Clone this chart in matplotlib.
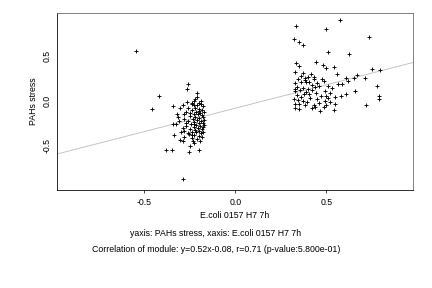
import matplotlib
matplotlib.use("Agg")
import matplotlib.pyplot as plt

# left cluster (E.coli low, PAHs low)
left_x = [-0.545, -0.42, -0.46, -0.38, -0.35, -0.255, -0.20, -0.25, -0.29, -0.225, -0.29,
          -0.26, -0.265, -0.21, -0.22, -0.265, -0.24, -0.23, -0.20, -0.34, -0.305, -0.29,
          -0.32, -0.315, -0.28, -0.27, -0.34, -0.325, -0.335, -0.305, -0.28, -0.26, -0.24,
          -0.23, -0.21, -0.19, -0.18, -0.22, -0.20, -0.185, -0.24, -0.215, -0.195, -0.175,
          -0.23, -0.205, -0.185, -0.25, -0.22, -0.20, -0.18, -0.235, -0.21, -0.19, -0.175,
          -0.26, -0.225, -0.20, -0.18, -0.245, -0.215, -0.195, -0.175, -0.27, -0.23, -0.205,
          -0.185, -0.25, -0.22, -0.20, -0.18, -0.28, -0.24, -0.215, -0.19, -0.30, -0.255,
          -0.225, -0.20, -0.185, -0.24, -0.21, -0.195, -0.27, -0.29, -0.31, -0.26, -0.25,
          -0.285, -0.21, -0.19, -0.24, -0.20, -0.225, -0.18, -0.235]
left_y = [0.556, 0.056, -0.09, -0.54, -0.55, -0.57, -0.55, -0.50, -0.87, -0.47, -0.44,
          0.19, 0.13, 0.09, 0.02, -0.01, -0.02, 0.00, -0.02, -0.06, -0.08, -0.05,
          -0.14, -0.18, -0.15, -0.12, -0.26, -0.26, -0.38, -0.43, -0.40, -0.36, -0.38,
          -0.05, -0.04, -0.03, -0.06, -0.08, -0.09, -0.10, -0.10, -0.12, -0.13, -0.12,
          -0.14, -0.15, -0.16, -0.17, -0.18, -0.19, -0.18, -0.20, -0.21, -0.22, -0.21,
          -0.22, -0.23, -0.24, -0.25, -0.26, -0.27, -0.28, -0.27, -0.28, -0.29, -0.30,
          -0.31, -0.31, -0.32, -0.33, -0.34, -0.33, -0.34, -0.35, -0.36, -0.35, -0.37,
          -0.38, -0.39, -0.40, -0.41, -0.42, -0.44, -0.25, -0.30, -0.22, -0.08, -0.13,
          -0.20, 0.04, 0.00, -0.03, -0.11, -0.26, -0.29, -0.44]

# right cluster
right_x = [0.335, 0.50, 0.575, 0.735, 0.32, 0.35, 0.37, 0.51, 0.625, 0.335, 0.35, 0.445,
           0.48, 0.50, 0.54, 0.75, 0.795, 0.33, 0.37, 0.415, 0.56, 0.67, 0.715, 0.61, 0.65,
           0.345, 0.38, 0.39, 0.385, 0.43, 0.475, 0.485, 0.62, 0.36, 0.405, 0.45, 0.565,
           0.585, 0.46, 0.51, 0.34, 0.33, 0.325, 0.37, 0.40, 0.42, 0.53, 0.49, 0.405, 0.375,
           0.34, 0.445, 0.52, 0.66, 0.78, 0.61, 0.58, 0.545, 0.79, 0.79, 0.32, 0.345, 0.37,
           0.395, 0.45, 0.49, 0.51, 0.52, 0.325, 0.35, 0.43, 0.44, 0.485, 0.545, 0.72, 0.33,
           0.35, 0.465, 0.54, 0.36, 0.40, 0.42, 0.44, 0.355, 0.39, 0.47, 0.50, 0.36, 0.41,
           0.46, 0.38, 0.42, 0.50, 0.33, 0.43]
right_y = [0.83, 0.80, 0.90, 0.71, 0.69, 0.66, 0.62, 0.54, 0.52, 0.42, 0.39, 0.43,
           0.40, 0.37, 0.38, 0.36, 0.345, 0.32, 0.31, 0.30, 0.30, 0.29, 0.26, 0.26, 0.26,
           0.24, 0.23, 0.21, 0.25, 0.24, 0.24, 0.22, 0.22, 0.21, 0.21, 0.20, 0.19,
           0.19, 0.17, 0.17, 0.16, 0.13, 0.11, 0.14, 0.13, 0.12, 0.14, 0.11, 0.08, 0.08,
           0.07, 0.09, 0.09, 0.11, 0.17, 0.08, 0.06, 0.04, 0.06, 0.02, 0.02, 0.01, 0.00,
           -0.01, 0.02, 0.00, 0.03, -0.01, -0.03, -0.03, -0.04, -0.07, -0.07, -0.03, -0.05, -0.08,
           -0.09, -0.11, -0.10, 0.28, 0.27, 0.18, 0.15, 0.12, 0.10, 0.06, 0.05, 0.04, 0.03,
           -0.02, -0.05, -0.08, -0.05, 0.20, 0.27]

# fitted line of the module
slope = 0.52
intercept = -0.08

xticks = [-0.5, 0.0, 0.5]
yticks = [-0.5, 0.0, 0.5]

plt.rcParams['font.family'] = ['Liberation Sans', 'DejaVu Sans']
fs = 8.8

fig = plt.figure(figsize=(6, 4), dpi=72)
ax = fig.add_axes([0.132, 0.340, 0.824, 0.615])

ax.axline((0, intercept), slope=slope, color='#c0c0c0', lw=0.9, zorder=1)
ax.plot(left_x + right_x, left_y + right_y, ls='none', marker='+', color='black',
        markersize=4.5, markeredgewidth=0.9, zorder=2)

ax.set_xlim(-0.98, 0.976)
ax.set_ylim(-0.99, 0.978)
ax.set_xticks(xticks)
ax.set_xticklabels(['-0.5', '0.0', '0.5'])
ax.set_yticks(yticks)
ax.set_yticklabels(['-0.5', '0.0', '0.5'], rotation=90, va='center')
ax.tick_params(axis='x', length=3, width=0.7, pad=5, labelsize=fs)
ax.tick_params(axis='y', length=0, pad=5, labelsize=fs)

for side in ['left', 'bottom']:
  ax.spines[side].set_color('black')
  ax.spines[side].set_linewidth(0.8)
for side in ['top', 'right']:
  ax.spines[side].set_color('#666666')
  ax.spines[side].set_linewidth(0.8)

ax.set_ylabel('PAHs stress', fontsize=fs, labelpad=5)
ax.set_xlabel('E.coli 0157 H7 7h', fontsize=fs, labelpad=4)

fig.text(0.5, 1 - 233/288, 'yaxis: PAHs stress, xaxis: E.coli 0157 H7 7h',
         ha='center', va='center', fontsize=fs)
fig.text(0.5, 1 - 250/288,
         'Correlation of module: y=0.52x-0.08, r=0.71 (p-value:5.800e-01)',
         ha='center', va='center', fontsize=fs)

fig.savefig('out.png', dpi=72)
